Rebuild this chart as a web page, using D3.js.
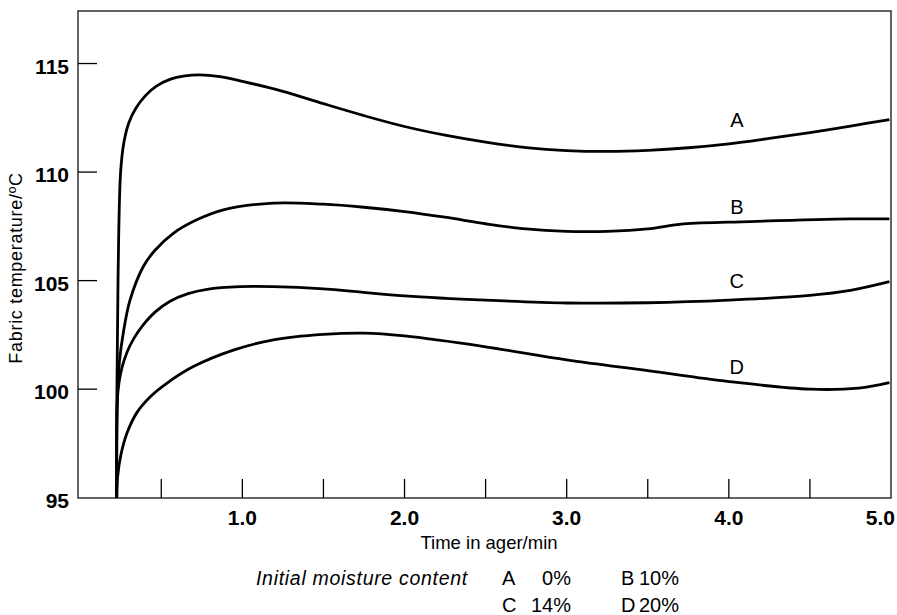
<!DOCTYPE html>
<html>
<head>
<meta charset="utf-8">
<script src="https://cdn.jsdelivr.net/npm/d3@7"></script>
<style>
  body { margin: 0; background: #fff; }
  text { font-family: "Liberation Sans", Arial, Helvetica, sans-serif; fill: #000; }
</style>
</head>
<body>
<svg></svg>
<script>
const width = 897;
const height = 615;

// time in ager (min) / fabric temperature (C)
const timeA = [0.225, 0.2265, 0.2332, 0.2492, 0.2702, 0.3011, 0.3442, 0.3997, 0.4676, 0.5534, 0.6465, 0.7372, 0.8606, 1.0, 1.25, 1.5, 1.75, 2.0, 2.25, 2.5, 2.75, 3.0, 3.25, 3.5, 3.75, 4.0, 4.25, 4.5, 4.75, 4.99];
const tempA = [95, 100, 105, 110, 111.4, 112.3, 112.95, 113.5, 113.95, 114.27, 114.43, 114.48, 114.4, 114.18, 113.72, 113.15, 112.6, 112.1, 111.7, 111.38, 111.13, 110.99, 110.95, 111.0, 111.12, 111.3, 111.55, 111.82, 112.12, 112.42];

const timeB = [0.225, 0.2289, 0.2424, 0.2659, 0.3072, 0.3893, 0.4614, 0.5743, 0.7187, 0.8828, 1.1912, 1.5, 1.75, 2.0, 2.25, 2.5, 2.75, 3.0, 3.25, 3.5, 3.72, 4.13, 4.75, 4.99];
const tempB = [95, 99.5, 101.3, 102.6, 104.1, 105.65, 106.4, 107.18, 107.8, 108.26, 108.57, 108.52, 108.38, 108.18, 107.92, 107.62, 107.38, 107.27, 107.27, 107.38, 107.61, 107.72, 107.84, 107.84];

const timeC = [0.225, 0.2289, 0.2394, 0.2579, 0.2887, 0.3319, 0.3874, 0.4614, 0.5543, 0.6653, 0.7825, 0.9858, 1.1894, 1.5, 2.0, 2.5, 3.0, 3.5, 4.0, 4.5, 4.75, 4.99];
const tempC = [95, 99.5, 100.3, 101.0, 101.7, 102.35, 102.95, 103.55, 104.05, 104.4, 104.6, 104.72, 104.72, 104.62, 104.3, 104.1, 103.97, 103.98, 104.1, 104.32, 104.55, 104.95];

const timeD = [0.225, 0.2313, 0.2517, 0.2887, 0.3504, 0.4306, 0.5336, 0.6977, 0.9445, 1.1912, 1.5, 1.75, 2.0, 2.5, 3.0, 3.5, 4.0, 4.5, 4.8, 4.99];
const tempD = [95, 96.0, 97.0, 97.98, 98.93, 99.64, 100.27, 101.04, 101.8, 102.27, 102.52, 102.58, 102.45, 101.95, 101.35, 100.85, 100.35, 100.0, 100.05, 100.3];

const seriesNames = ['A', 'B', 'C', 'D'];
const labelTime = 4.0;
const labelTemp = [112.4, 108.4, 105.0, 101.0];

const xTicks = [0.5, 1.0, 1.5, 2.0, 2.5, 3.0, 3.5, 4.0, 4.5];
const xTickLabels = ['1.0', '2.0', '3.0', '4.0', '5.0'];
const yTicks = [95, 100, 105, 110, 115];

const legendTitle = 'Initial moisture content';
const legendRows = [['A', '0%', 'B', '10%'], ['C', '14%', 'D', '20%']];

const svg = d3.select('svg').attr('width', width).attr('height', height);

const x = d3.scaleLinear().domain([0, 5]).range([80.2, 891]);
const y = d3.scaleLinear().domain([95, 117.42]).range([497.7, 11]);

// frame
svg.append('rect')
    .attr('x', 78).attr('y', 11)
    .attr('width', 891 - 78).attr('height', 498 - 11)
    .style('fill', 'none')
    .style('stroke', '#222')
    .style('stroke-width', 1.4);

// inward ticks
svg.selectAll('.xtick')
    .data(xTicks)
    .enter().append('line')
    .attr('class', 'xtick')
    .attr('x1', d => x(d)).attr('x2', d => x(d))
    .attr('y1', 498).attr('y2', 479)
    .style('stroke', '#000').style('stroke-width', 1.3);

svg.selectAll('.ytick')
    .data(yTicks.slice(1))
    .enter().append('line')
    .attr('class', 'ytick')
    .attr('x1', 78).attr('x2', 97)
    .attr('y1', d => y(d)).attr('y2', d => y(d))
    .style('stroke', '#000').style('stroke-width', 1.3);

svg.selectAll('.xlab')
    .data(xTickLabels)
    .enter().append('text')
    .attr('x', (d, i) => i === xTickLabels.length - 1 ? 895 : x(+d))
    .attr('y', 525)
    .attr('text-anchor', (d, i) => i === xTickLabels.length - 1 ? 'end' : 'middle')
    .style('font-size', '21px').style('font-weight', 'bold')
    .text(d => d);

svg.selectAll('.ylab')
    .data(yTicks)
    .enter().append('text')
    .attr('x', 69)
    .attr('y', d => y(d) + 10.3)
    .attr('text-anchor', 'end')
    .style('font-size', '21px').style('font-weight', 'bold')
    .text(d => d);

svg.append('text')
    .attr('x', 489).attr('y', 549)
    .attr('text-anchor', 'middle')
    .style('font-size', '18.5px')
    .text('Time in ager/min');

svg.append('text')
    .attr('transform', 'translate(22,268) rotate(-90)')
    .attr('text-anchor', 'middle')
    .style('font-size', '18px')
    .style('letter-spacing', '0.7px')
    .text('Fabric temperature/\u00baC');

// curves
const curves = [
  d3.zip(timeA, tempA),
  d3.zip(timeB, tempB),
  d3.zip(timeC, tempC),
  d3.zip(timeD, tempD)
];

const line = d3.line()
    .x(d => x(d[0]))
    .y(d => y(d[1]))
    .curve(d3.curveCatmullRom.alpha(0.5));

svg.selectAll('.curve')
    .data(curves)
    .enter().append('path')
    .attr('class', 'curve')
    .attr('d', line)
    .style('fill', 'none')
    .style('stroke', '#000')
    .style('stroke-width', 2.8)
    .style('stroke-linejoin', 'round');

svg.selectAll('.clabel')
    .data(seriesNames)
    .enter().append('text')
    .attr('x', x(labelTime) + 8)
    .attr('y', (d, i) => y(labelTemp[i]) + 7)
    .attr('text-anchor', 'middle')
    .style('font-size', '20px')
    .text(d => d);

// legend
svg.append('text')
    .attr('x', 256).attr('y', 585)
    .style('font-size', '19.5px').style('font-style', 'italic')
    .style('letter-spacing', '0.7px')
    .text(legendTitle);

legendRows.forEach((row, i) => {
  const yy = 585 + i * 26.5;
  svg.append('text').attr('x', 502).attr('y', yy).style('font-size', '20px').text(row[0]);
  svg.append('text').attr('x', 571).attr('y', yy).attr('text-anchor', 'end').style('font-size', '20px').text(row[1]);
  svg.append('text').attr('x', 621).attr('y', yy).style('font-size', '20px').text(row[2]);
  svg.append('text').attr('x', 679).attr('y', yy).attr('text-anchor', 'end').style('font-size', '20px').text(row[3]);
});
</script>
</body>
</html>
